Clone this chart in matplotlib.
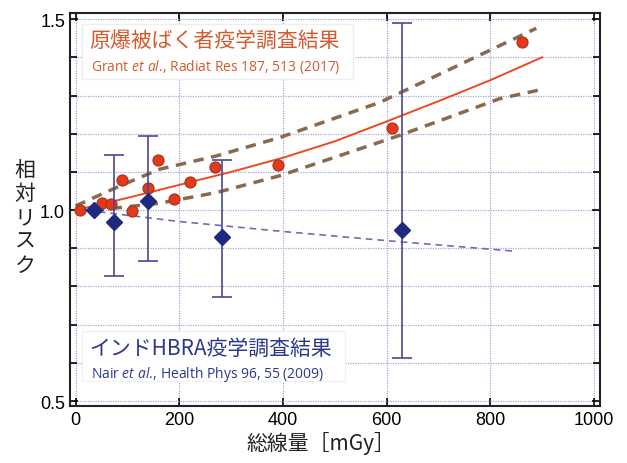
import matplotlib.pyplot as plt
from matplotlib.ticker import MultipleLocator
from matplotlib.patches import Rectangle

plt.rcParams['font.family'] = ['Noto Sans CJK JP', 'DejaVu Sans']
plt.rcParams['mathtext.fontset'] = 'custom'
plt.rcParams['mathtext.it'] = 'Open Sans:italic'
plt.rcParams['mathtext.rm'] = 'Open Sans'

# 原爆被ばく者 (Grant et al.)
grant_x = [9, 50, 69, 89, 109, 140, 159, 190, 220, 268, 390, 611, 861]
grant_y = [1.0, 1.018, 1.015, 1.078, 0.998, 1.057, 1.131, 1.029, 1.074, 1.112, 1.118, 1.214, 1.44]

# 当てはめ曲線と信頼区間
fit_x = [0, 100, 200, 300, 400, 500, 600, 700, 800, 900]
fit_y = [1.0, 1.032, 1.066, 1.100, 1.137, 1.180, 1.232, 1.285, 1.340, 1.400]
ci_up_x = [0, 85, 162, 272, 394, 587, 729, 889]
ci_up_y = [1.011, 1.063, 1.107, 1.142, 1.19, 1.282, 1.373, 1.476]
ci_lo_x = [0, 162, 272, 394, 587, 626, 819, 900]
ci_lo_y = [0.994, 1.018, 1.046, 1.09, 1.178, 1.196, 1.292, 1.316]

# インドHBRA (Nair et al.)
nair_x = [35, 74, 140, 283, 629]
nair_y = [1.0, 0.97, 1.023, 0.93, 0.948]
nair_lo = [1.0, 0.827, 0.866, 0.772, 0.614]
nair_hi = [1.0, 1.144, 1.193, 1.131, 1.49]
nair_fit_x = [0, 200, 400, 600, 850]
nair_fit_y = [1.003, 0.970, 0.944, 0.920, 0.892]

fig = plt.figure(figsize=(6.27, 4.64), dpi=100)
ax = fig.add_axes([0.1116, 0.1228, 0.8454, 0.847])

ax.set_xlim(-11, 1012)
ax.set_ylim(0.487, 1.516)

ax.xaxis.set_major_locator(MultipleLocator(200))
ax.yaxis.set_minor_locator(MultipleLocator(0.1))
ax.grid(True, which='both', color='#a8a8de', linestyle=(0, (1, 1)), linewidth=0.9)
ax.set_axisbelow(True)
ax.tick_params(which='both', direction='in', top=True, right=True, width=1.2)
ax.tick_params(which='major', length=6, labelsize=13)
ax.tick_params(which='minor', length=5)
ax.set_yticks([0.5, 1.0, 1.5])
ax.set_yticklabels(['0.5', '1.0', '1.5'])
for lab in ax.get_xticklabels() + ax.get_yticklabels():
    lab.set_family(['Liberation Sans', 'DejaVu Sans'])
for s in ax.spines.values():
    s.set_linewidth(1.5)
    s.set_color('#222222')

# 注記の枠
ax.add_patch(Rectangle((11.6, 1.343), 523, 0.144, facecolor='white', edgecolor='#eeeeee', zorder=1.5))
ax.add_patch(Rectangle((11.6, 0.553), 508, 0.131, facecolor='white', edgecolor='#f2f2f2', zorder=1.5))

# 曲線
ax.plot(nair_fit_x, nair_fit_y, color='#6d6db5', linestyle=(0, (4, 3)), linewidth=1.2, zorder=2)
ax.plot(ci_up_x, ci_up_y, color='#8a6a4c', linestyle=(0, (3, 2.2)), linewidth=2.5, zorder=3)
ax.plot(ci_lo_x, ci_lo_y, color='#8a6a4c', linestyle=(0, (3, 2.2)), linewidth=2.5, zorder=3)
ax.plot(fit_x, fit_y, color='#ee4a22', linewidth=1.4, zorder=4)

# データ点
ax.plot(grant_x, grant_y, 'o', color='#e5391c', markeredgecolor='#a0351e',
        markersize=8, markeredgewidth=0.8, zorder=5)
yerr = [[y - lo for y, lo in zip(nair_y, nair_lo)], [hi - y for y, hi in zip(nair_y, nair_hi)]]
ax.errorbar(nair_x, nair_y, yerr=yerr, fmt='D', color='#1e2a80', ecolor='#4a4a8e',
            elinewidth=1.2, capsize=7, capthick=1.2, markersize=8, zorder=6)

# 注記
ax.text(26, 1.445, '原爆被ばく者疫学調査結果', fontsize=15, color='#d65a2e',
        va='center', ha='left', zorder=7)
ax.text(30, 1.377, 'Grant $et\\ al.\\!$, Radiat Res 187, 513 (2017)', fontsize=10,
        color='#d65a2e', va='center', ha='left', zorder=7, family=['Open Sans', 'DejaVu Sans'])
ax.text(26, 0.639, 'インドHBRA疫学調査結果', fontsize=15, color='#2b3a8c',
        va='center', ha='left', zorder=7)
ax.text(30, 0.573, 'Nair $et\\ al.\\!$, Health Phys 96, 55 (2009)', fontsize=10,
        color='#2b3a8c', va='center', ha='left', zorder=7, family=['Open Sans', 'DejaVu Sans'])

fig.text(0.512, 0.02, '総線量［mGy］', fontsize=15, ha='center', va='bottom', color='#222222')
fig.text(0.04, 0.53, '\n'.join('相対リスク'), fontsize=15, ha='center', va='center',
         linespacing=1.1, color='#222222')

fig.savefig('out.png', dpi=100)
